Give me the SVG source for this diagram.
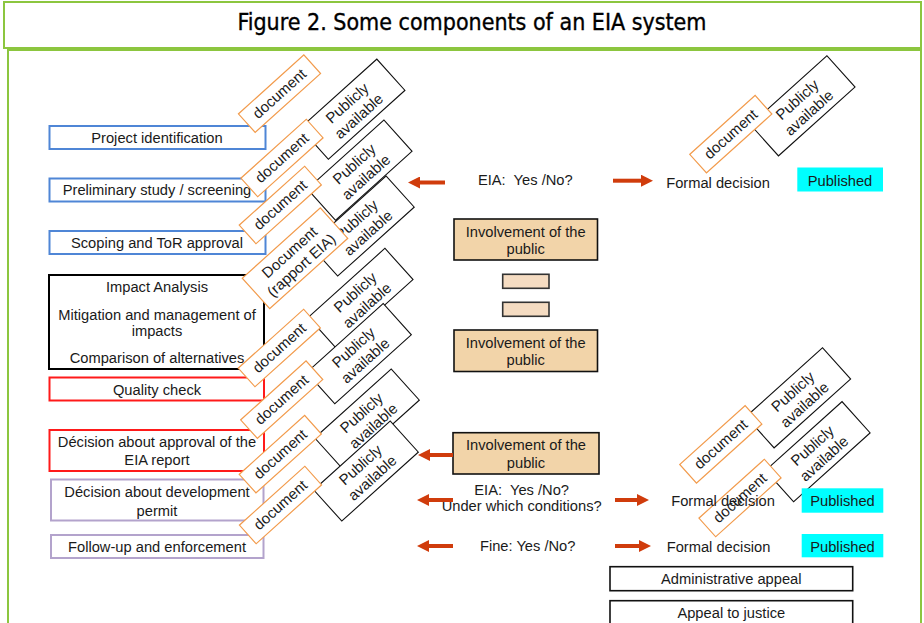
<svg xmlns="http://www.w3.org/2000/svg" width="924" height="623" viewBox="0 0 924 623">
<style>
text{font-family:"Liberation Sans",Arial,sans-serif;font-size:14.7px;fill:#1a1a1a;text-anchor:middle}
.title{font-family:"DejaVu Sans Condensed","DejaVu Sans",sans-serif;font-size:23px;fill:#000;stroke:#000;stroke-width:0.35}
.frame{fill:none;stroke:#8cc63f;stroke-width:2}
.blue{fill:#fff;stroke:#4f86d6;stroke-width:2}
.blk{fill:#fff;stroke:#000;stroke-width:2}
.red{fill:#fff;stroke:#ff1a1a;stroke-width:2}
.pur{fill:#fff;stroke:#b3a3cc;stroke-width:2}
.inv{fill:#f2d4a9;stroke:#111;stroke-width:1.6}
.sm{fill:#f5dcc2;stroke:#333;stroke-width:1.6}
.doc{fill:#fff;stroke:#f29b4c;stroke-width:1.2}
.pub{fill:#fff;stroke:#111;stroke-width:1.1}
.rt{font-size:15px}
.pubbox{fill:#00ffff}
.app{fill:#fff;stroke:#111;stroke-width:1.6}
.arr{stroke:#d03c0c;stroke-width:4;fill:none;marker-end:url(#ah)}
.pre{white-space:pre}
</style>
<defs>
<marker id="ah" viewBox="0 0 12 12" refX="1" refY="6" markerWidth="12" markerHeight="12" markerUnits="userSpaceOnUse" orient="auto">
<path d="M0,0 L12,6 L0,12 z" fill="#d03c0c"/>
</marker>
</defs>
<rect width="924" height="623" fill="#fff"/>
<g id="frame">
<rect class="frame" x="4" y="2" width="917" height="46"/>
<rect class="frame" x="8" y="50" width="913" height="590"/>
<text class="title" x="472" y="30" textLength="469" lengthAdjust="spacingAndGlyphs">Figure 2. Some components of an EIA system</text>
</g>
<g id="n-project"><rect class="blue" x="49.5" y="126" width="216" height="23"/><text x="157" y="142.8">Project identification</text></g>
<g id="n-screening"><rect class="blue" x="49.5" y="178.5" width="216" height="23"/><text x="157" y="195.3">Preliminary study / screening</text></g>
<g id="n-scoping"><rect class="blue" x="49.5" y="231" width="216" height="23"/><text x="157" y="247.8">Scoping and ToR approval</text></g>
<g id="n-impact"><rect class="blk" x="49" y="275" width="215" height="94"/>
<text x="157" y="291.7">Impact Analysis</text>
<text x="157" y="319.5">Mitigation and management of</text>
<text x="157" y="335.7">impacts</text>
<text x="157" y="363">Comparison of alternatives</text></g>
<g id="n-quality"><rect class="red" x="49.5" y="377.5" width="214.5" height="23"/><text x="157" y="395">Quality check</text></g>
<g id="n-approval"><rect class="red" x="49.5" y="430" width="214.5" height="41"/><text x="157" y="447.3">Décision about approval of the</text><text x="157" y="464.7">EIA report</text></g>
<g id="n-permit"><rect class="pur" x="51" y="479.5" width="212.5" height="41"/><text x="157" y="497.3">Décision about development</text><text x="157" y="515.5">permit</text></g>
<g id="n-followup"><rect class="pur" x="51" y="535" width="212.5" height="23"/><text x="157" y="552.3">Follow-up and enforcement</text></g>

<g id="n-inv1"><rect class="inv" x="454" y="219" width="143.5" height="41"/><text x="525.7" y="236.5">Involvement of the</text><text x="525.7" y="254">public</text></g>
<g id="n-small1"><rect class="sm" x="502.7" y="274.3" width="46.3" height="14"/></g>
<g id="n-small2"><rect class="sm" x="502.7" y="302.3" width="46.3" height="14"/></g>
<g id="n-inv2"><rect class="inv" x="454" y="330" width="143.5" height="41.5"/><text x="525.7" y="347.5">Involvement of the</text><text x="525.7" y="365">public</text></g>
<g id="n-inv3"><rect class="inv" x="453" y="432.7" width="146" height="41.3"/><text x="526" y="450">Involvement of the</text><text x="526" y="467.5">public</text></g>

<g id="n-d1" transform="translate(279.5,93.7) rotate(-42)"><rect class="doc" x="-44" y="-12.5" width="88" height="25"/><text class="rt" y="5">document</text></g>
<g id="n-p1" transform="translate(352.6,109.2) rotate(-42)"><rect class="pub" x="-51.5" y="-21" width="103" height="42"/><text class="rt" y="-3">Publicly</text><text class="rt" y="14.5">available</text></g>
<g id="n-d2" transform="translate(282,158) rotate(-42)"><rect class="doc" x="-44" y="-12.5" width="88" height="25"/><text class="rt" y="5">document</text></g>
<g id="n-p2" transform="translate(359.7,170.1) rotate(-42)"><rect class="pub" x="-51.5" y="-21" width="103" height="42"/><text class="rt" y="-3">Publicly</text><text class="rt" y="14.5">available</text></g>
<g id="n-d3" transform="translate(280.3,205) rotate(-42)"><rect class="doc" x="-44" y="-12.5" width="88" height="25"/><text class="rt" y="5">document</text></g>
<g id="n-p3" transform="translate(361.9,226) rotate(-42)"><rect class="pub" x="-51.5" y="-21" width="103" height="42"/><text class="rt" y="-3">Publicly</text><text class="rt" y="14.5">available</text></g>
<g id="n-d4" transform="translate(295,258.3) rotate(-42)"><rect class="doc" x="-52.5" y="-20.5" width="105" height="41"/><text class="rt" y="-3">Document</text><text class="rt" y="14.5">(rapport EIA)</text></g>
<g id="n-p4" transform="translate(360.7,298.4) rotate(-42)"><rect class="pub" x="-51.5" y="-21" width="103" height="42"/><text class="rt" y="-3">Publicly</text><text class="rt" y="14.5">available</text></g>
<g id="n-d5" transform="translate(279.3,348) rotate(-42)"><rect class="doc" x="-44" y="-12.5" width="88" height="25"/><text class="rt" y="5">document</text></g>
<g id="n-p5" transform="translate(359,353.6) rotate(-42)"><rect class="pub" x="-51.5" y="-21" width="103" height="42"/><text class="rt" y="-3">Publicly</text><text class="rt" y="14.5">available</text></g>
<g id="n-d6" transform="translate(281.7,399.7) rotate(-42)"><rect class="doc" x="-44" y="-12.5" width="88" height="25"/><text class="rt" y="5">document</text></g>
<g id="n-p6" transform="translate(367,419) rotate(-42)"><rect class="pub" x="-51.5" y="-21" width="103" height="42"/><text class="rt" y="-3">Publicly</text><text class="rt" y="14.5">available</text></g>
<g id="n-d7" transform="translate(280.3,454.2) rotate(-42)"><rect class="doc" x="-44" y="-12.5" width="88" height="25"/><text class="rt" y="5">document</text></g>
<g id="n-p7" transform="translate(366,471) rotate(-42)"><rect class="pub" x="-51.5" y="-21" width="103" height="42"/><text class="rt" y="-3">Publicly</text><text class="rt" y="14.5">available</text></g>
<g id="n-d8" transform="translate(280.5,505) rotate(-42)"><rect class="doc" x="-44" y="-12.5" width="88" height="25"/><text class="rt" y="5">document</text></g>

<g id="n-rp1" transform="translate(802.7,105.8) rotate(-42)"><rect class="pub" x="-51.5" y="-21" width="103" height="42"/><text class="rt" y="-3">Publicly</text><text class="rt" y="14.5">available</text></g>
<g id="n-rd1" transform="translate(730.8,134.2) rotate(-42)"><rect class="doc" x="-44" y="-12.5" width="88" height="25"/><text class="rt" y="5">document</text></g>
<g id="n-rp2" transform="translate(798.3,397.8) rotate(-42)"><rect class="pub" x="-51.5" y="-21" width="103" height="42"/><text class="rt" y="-3">Publicly</text><text class="rt" y="14.5">available</text></g>
<g id="n-rd2" transform="translate(720.8,444.3) rotate(-42)"><rect class="doc" x="-44" y="-12.5" width="88" height="25"/><text class="rt" y="5">document</text></g>
<g id="n-rp3" transform="translate(817.8,451.7) rotate(-42)"><rect class="pub" x="-51.5" y="-21" width="103" height="42"/><text class="rt" y="-3">Publicly</text><text class="rt" y="14.5">available</text></g>
<g id="n-rd3" transform="translate(740,498) rotate(-42)"><rect class="doc" x="-44" y="-12.5" width="88" height="25"/><text class="rt" y="5">document</text></g>

<g id="n-q1"><text class="pre" x="525.3" y="185">EIA:  Yes /No?</text></g>
<g id="n-q2"><text class="pre" x="521.7" y="495">EIA:  Yes /No?</text><text x="521.7" y="510.7">Under which conditions?</text></g>
<g id="n-q3"><text x="527.7" y="551">Fine: Yes /No?</text></g>
<g id="n-fd1"><text x="718" y="187.5">Formal decision</text></g>
<g id="n-fd2"><text x="723" y="505.5">Formal decision</text></g>
<g id="n-fd3"><text x="718.5" y="551.5">Formal decision</text></g>
<g id="n-pub1"><rect class="pubbox" x="797.3" y="167.5" width="85.7" height="24"/><text x="840" y="185.5">Published</text></g>
<g id="n-pub2"><rect class="pubbox" x="801.7" y="488.3" width="81.6" height="24.4"/><text x="842.5" y="506.3">Published</text></g>
<g id="n-pub3"><rect class="pubbox" x="801.7" y="534" width="81.6" height="23.3"/><text x="842.5" y="551.5">Published</text></g>
<g id="n-admin"><rect class="app" x="610" y="566.7" width="242.7" height="24"/><text x="731.3" y="584">Administrative appeal</text></g>
<g id="n-justice"><rect class="app" x="610" y="600.7" width="242.7" height="30"/><text x="731.3" y="618">Appeal to justice</text></g>

<g id="connectors">
<line class="arr" x1="445" y1="182.5" x2="419" y2="182.5"/>
<line class="arr" x1="613" y1="180.7" x2="642" y2="180.7"/>
<line class="arr" x1="453" y1="455" x2="429" y2="455"/>
<line class="arr" x1="453" y1="500" x2="428" y2="500"/>
<line class="arr" x1="615" y1="500" x2="638" y2="500"/>
<line class="arr" x1="453" y1="546" x2="428" y2="546"/>
<line class="arr" x1="615" y1="546" x2="640" y2="546"/>
</g>
</svg>
